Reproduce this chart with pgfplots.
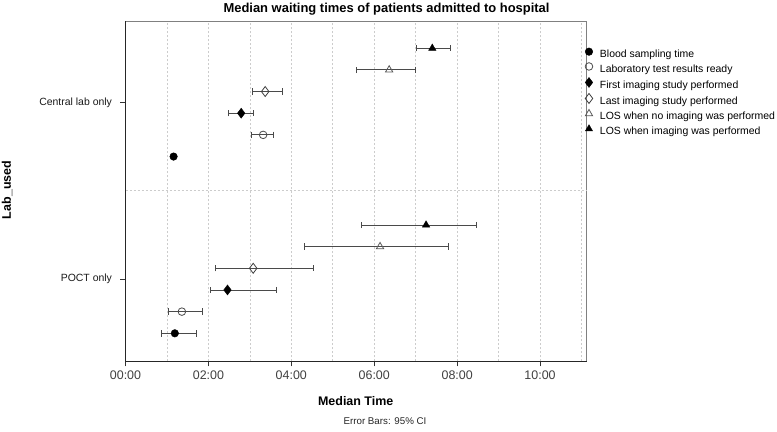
\documentclass[border=0pt]{standalone}
\usepackage{pgfplots}
\pgfplotsset{compat=1.18}
\usepackage{fontspec}
\setmainfont{Liberation Sans}
\definecolor{gridc}{HTML}{CCCCCC}
\definecolor{barc}{HTML}{4A4A4A}
\begin{document}
\begin{tikzpicture}
\path[use as bounding box] (0bp,0bp) rectangle (777bp,432bp);
\node[font=\bfseries\fontsize{13}{15}\selectfont] at (386.5bp,423bp) {Median waiting times of patients admitted to hospital};
\node[font=\bfseries\fontsize{12.5}{14}\selectfont] at (355.7bp,31bp) {Median Time};
\node[font=\fontsize{9.8}{11}\selectfont, text=black!85] at (385bp,11bp) {Error Bars: 95\% CI};
\node[font=\bfseries\fontsize{12.5}{14}\selectfont, rotate=90] at (7bp,242bp) {Lab\_used};
\begin{axis}[
  at={(125.5bp,70.5bp)}, anchor=south west,
  scale only axis, width=461bp, height=340bp,
  xmin=0, xmax=11.12, ymin=-0.466, ymax=1.4576,
  xtick={0,2,4,6,8,10},
  xticklabels={00:00,02:00,04:00,06:00,08:00,10:00},
  minor xtick={1,3,5,7,9,11},
  xmajorgrids, xminorgrids,
  ytick={0,1}, yticklabels={POCT only,Central lab only},
  extra y ticks={0.5}, extra y tick labels={},
  extra y tick style={ymajorgrids, major tick length=0pt},
  tick pos=left, tick align=outside,
  major tick length=5bp, minor tick length=0bp,
  tick style={black!80, line width=0.8bp},
  grid style={gridc, line width=0.6bp, dash pattern=on 2bp off 2bp},
  axis line style={black!50, line width=0.9bp},
  x tick label style={font=\fontsize{12.5}{14}\selectfont, text=black!75, yshift=-1bp},
  y tick label style={font=\fontsize{10.5}{12}\selectfont, text=black!90, xshift=-5bp},
  legend style={at={(rel axis cs:0.9967,0.923)}, anchor=north west, draw=none, fill=none,
    font=\fontsize{10.5}{12}\selectfont, inner sep=0pt, row sep=3bp,
    nodes={inner sep=0pt, text height=8bp, text depth=2bp}},
  legend cell align=left,
  legend image code/.code={\draw[#1, only marks] plot coordinates {(3bp,3bp)}; \path[draw=none, fill=none] (3bp,3bp) rectangle (14bp,3.1bp);},
  error bars/error bar style={barc, line width=0.9bp},
  error bars/error mark options={barc, line width=0.9bp, mark size=3.2bp, rotate=90},
  clip=false,
]
% Blood sampling time
\addplot[only marks, mark=*, mark size=3.8bp, black,
  error bars/.cd, x dir=both, x explicit]
  coordinates {(1.16,0.6935) -= (0.02,0) += (0.02,0)
               (1.19,-0.3065) -= (0.33,0) += (0.53,0)};
\addlegendentry{Blood sampling time}
% Laboratory results ready
\addplot[only marks, mark=o, mark size=3.8bp, mark options={fill=white, draw=black!70, line width=0.8bp},
  error bars/.cd, x dir=both, x explicit]
  coordinates {(3.32,0.8161) -= (0.28,0) += (0.24,0)
               (1.36,-0.1839) -= (0.32,0) += (0.49,0)};
\addlegendentry{Laboratory test results ready}
% First imaging
\addplot[only marks, mark=diamond*, mark size=5bp, black,
  error bars/.cd, x dir=both, x explicit]
  coordinates {(2.79,0.9387) -= (0.30,0) += (0.29,0)
               (2.46,-0.0613) -= (0.40,0) += (1.18,0)};
\addlegendentry{First imaging study performed}
% Last imaging
\addplot[only marks, mark=diamond, mark size=5bp, mark options={fill=white, draw=black!75, line width=0.8bp},
  error bars/.cd, x dir=both, x explicit]
  coordinates {(3.37,1.0613) -= (0.31,0) += (0.41,0)
               (3.08,0.0613) -= (0.91,0) += (1.45,0)};
\addlegendentry{Last imaging study performed}
% LOS no imaging
\addplot[only marks, mark=triangle, mark size=4.2bp, mark options={fill=white, draw=black!65, line width=0.8bp},
  error bars/.cd, x dir=both, x explicit]
  coordinates {(6.36,1.1839) -= (0.79,0) += (0.64,0)
               (6.14,0.1839) -= (1.83,0) += (1.65,0)};
\addlegendentry{LOS when no imaging was performed}
% LOS imaging
\addplot[only marks, mark=triangle*, mark size=4.2bp, black,
  error bars/.cd, x dir=both, x explicit]
  coordinates {(7.40,1.3065) -= (0.37,0) += (0.45,0)
               (7.25,0.3065) -= (1.56,0) += (1.21,0)};
\addlegendentry{LOS when imaging was performed}
\draw[black!85, line width=1.1bp] (rel axis cs:0,1) -- (rel axis cs:0,0) -- (rel axis cs:1,0);
\end{axis}
\end{tikzpicture}
\end{document}
